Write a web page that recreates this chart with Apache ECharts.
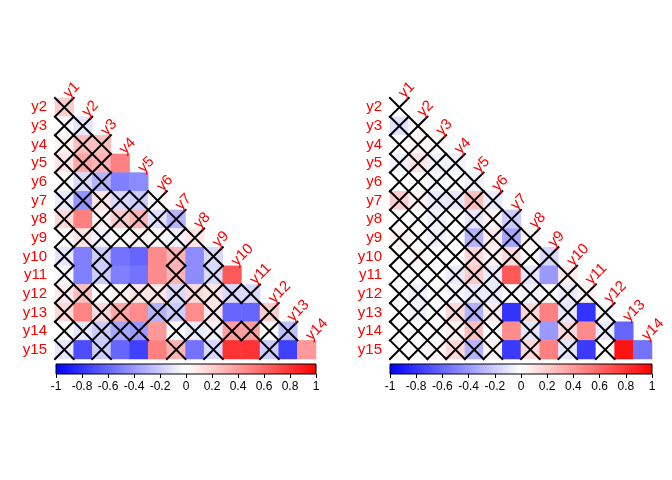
<!DOCTYPE html>
<html>
<head>
<meta charset="utf-8">
<script src="https://cdn.jsdelivr.net/npm/echarts@6/dist/echarts.min.js"></script>
<style>html,body{margin:0;padding:0;background:#fff;}#c{width:672px;height:480px;}</style>
</head>
<body>
<div id="c"></div>
<script>
// variable names
const varNames = ['y1','y2','y3','y4','y5','y6','y7','y8','y9','y10','y11','y12','y13','y14','y15'];
const colCats = varNames.slice(0, 14);
const rowCats = varNames.slice(1);

// colour bar ticks
const barTicks = [-1, -0.8, -0.6, -0.4, -0.2, 0, 0.2, 0.4, 0.6, 0.8, 1];
const palette = ['#0000FF', '#FFFFFF', '#FF0000'];

// left panel: lower triangle correlations, rows y2..y15, cols y1..
const leftValues = [
  [0.2],
  [-0.02, -0.1],
  [0.05, 0.25, 0.25],
  [0.1, 0.35, 0.3, 0.5],
  [0.0, -0.15, -0.3, -0.5, -0.45],
  [-0.08, -0.42, 0.1, -0.15, -0.2, 0.02],
  [0.15, 0.5, 0.05, 0.2, 0.3, -0.12, -0.3],
  [0.02, 0.1, -0.05, 0.0, 0.05, 0.03, -0.05, 0.1],
  [-0.1, -0.5, -0.2, -0.55, -0.6, 0.45, 0.3, -0.45, -0.15],
  [-0.03, -0.5, -0.2, -0.5, -0.55, 0.45, 0.3, -0.45, -0.15, 0.65],
  [0.08, 0.25, 0.0, 0.05, 0.1, 0.1, -0.15, 0.15, 0.1, -0.15, -0.15],
  [0.15, 0.48, 0.15, 0.35, 0.45, -0.3, -0.2, 0.45, 0.1, -0.6, -0.6, 0.2],
  [0.0, -0.1, -0.2, -0.35, -0.4, 0.4, 0.0, -0.08, -0.05, 0.38, 0.38, 0.0, -0.25],
  [-0.1, -0.7, -0.2, -0.6, -0.75, 0.5, 0.3, -0.55, -0.15, 0.8, 0.8, -0.2, -0.75, 0.4]
];
// 1 = significant (no cross), 0 = crossed out
const leftSig = [
  [0],
  [0,0],
  [0,0,0],
  [0,0,0,1],
  [0,0,0,1,1],
  [0,0,0,0,0,0],
  [0,1,0,0,0,0,0],
  [0,0,0,0,0,0,0,0],
  [0,1,0,1,1,1,0,1,0],
  [0,1,0,1,1,1,0,1,0,1],
  [0,0,0,0,0,0,0,0,0,0,0],
  [0,1,0,0,1,0,0,1,0,1,1,0],
  [0,0,0,0,0,1,0,0,0,0,0,0,0],
  [0,1,0,1,1,1,0,1,0,1,1,0,1,1]
];

// right panel
const rightValues = [
  [0.0],
  [-0.12, 0.02],
  [0.0, 0.04, 0.02],
  [-0.05, 0.1, -0.05, -0.05],
  [0.0, 0.0, -0.03, 0.0, -0.05],
  [0.2, 0.05, -0.08, -0.1, 0.25, -0.08],
  [0.0, 0.0, -0.05, 0.0, -0.1, 0.05, -0.2],
  [0.05, 0.0, -0.05, 0.0, -0.3, 0.08, -0.35, 0.03],
  [0.0, 0.04, 0.0, 0.0, 0.15, 0.05, 0.15, 0.0, -0.15],
  [0.0, 0.0, 0.0, -0.08, 0.2, -0.08, 0.65, -0.1, -0.4, 0.08],
  [0.0, -0.05, 0.0, -0.03, -0.08, -0.08, 0.0, -0.05, 0.02, -0.08, 0.05],
  [0.0, -0.05, 0.0, 0.15, -0.3, 0.08, -0.8, 0.15, 0.5, -0.1, -0.8, -0.03],
  [0.0, 0.0, 0.0, 0.05, 0.25, 0.0, 0.45, -0.1, -0.4, 0.15, 0.45, -0.08, -0.6],
  [0.0, 0.0, 0.04, 0.15, -0.3, 0.05, -0.77, 0.15, 0.5, -0.1, -0.77, 0.0, 0.93, -0.55]
];
const rightSig = [
  [0],
  [0,0],
  [0,0,0],
  [0,0,0,0],
  [0,0,0,0,0],
  [0,0,0,0,0,0],
  [0,0,0,0,0,0,0],
  [0,0,0,0,0,0,0,0],
  [0,0,0,0,0,0,0,0,0],
  [0,0,0,0,0,0,1,0,1,0],
  [0,0,0,0,0,0,0,0,0,0,0],
  [0,0,0,0,0,0,1,0,1,0,1,0],
  [0,0,0,0,0,0,1,0,1,0,1,0,1],
  [0,0,0,0,0,0,1,0,1,0,1,0,1,1]
];

const FONT = 'Liberation Sans, Arial, sans-serif';

function heatData(vals) {
  const out = [];
  vals.forEach((row, i) => row.forEach((v, j) => out.push([j, i, v])));
  return out;
}
function crossData(sig) {
  const out = [];
  sig.forEach((row, i) => row.forEach((s, j) => { if (!s) out.push([j, i]); }));
  return out;
}
const labelData = colCats.map((n, j) => [j, j, n]);

function renderCross(params, api) {
  const c = api.coord([api.value(0), api.value(1)]);
  const s = api.size([1, 1]);
  const x0 = c[0] - s[0] / 2, x1 = c[0] + s[0] / 2;
  const y0 = c[1] - s[1] / 2, y1 = c[1] + s[1] / 2;
  const st = { stroke: '#000', lineWidth: 2, lineCap: 'square' };
  return { type: 'group', children: [
    { type: 'line', shape: { x1: x0, y1: y0, x2: x1, y2: y1 }, style: st },
    { type: 'line', shape: { x1: x0, y1: y1, x2: x1, y2: y0 }, style: st }
  ]};
}
function renderColLabel(params, api) {
  const c = api.coord([api.value(0), api.value(1)]);
  const s = api.size([1, 1]);
  return {
    type: 'text', x: c[0] + 7, y: c[1] - s[1] / 2 + 3, rotation: Math.PI / 4,
    style: { text: colCats[api.value(0)], fill: '#FF0000', font: '15px ' + FONT, align: 'left', verticalAlign: 'bottom' }
  };
}
function renderBar(params, api) {
  const a = api.coord([barTicks[0], 0]);
  const b = api.coord([barTicks[barTicks.length - 1], 1]);
  return {
    type: 'rect',
    shape: { x: a[0], y: b[1], width: b[0] - a[0], height: a[1] - b[1] },
    style: {
      fill: new echarts.graphic.LinearGradient(0, 0, 1, 0, [
        { offset: 0, color: palette[0] }, { offset: 0.5, color: palette[1] }, { offset: 1, color: palette[2] }
      ]),
      stroke: '#000', lineWidth: 1
    }
  };
}

const grids = [
  { left: 55, top: 98, width: 261, height: 261 },
  { left: 390, top: 98, width: 262, height: 261 },
  { left: 56, top: 364, width: 260, height: 10 },
  { left: 390, top: 364, width: 262, height: 10 }
];
const catX = i => ({ type: 'category', gridIndex: i, data: colCats, show: false });
const catY = i => ({
  type: 'category', gridIndex: i, data: rowCats, inverse: true,
  axisLine: { show: false }, axisTick: { show: false }, splitLine: { show: false },
  axisLabel: { color: '#FF0000', fontSize: 15, fontFamily: FONT, margin: 8, interval: 0 }
});
const barX = i => ({
  type: 'value', gridIndex: i, min: barTicks[0], max: barTicks[barTicks.length - 1], interval: 0.2,
  axisLine: { show: false }, splitLine: { show: false },
  axisTick: { show: true, length: 4, lineStyle: { color: '#000', width: 1 } },
  axisLabel: { color: '#000', fontSize: 12, fontFamily: FONT, margin: 7,
    formatter: v => String(+v.toFixed(1)) }
});
const barY = i => ({ type: 'value', gridIndex: i, min: 0, max: 1, show: false });

const chart = echarts.init(document.getElementById('c'), null, { renderer: 'canvas' });
chart.setOption({
  animation: false,
  backgroundColor: '#fff',
  grid: grids,
  xAxis: [catX(0), catX(1), barX(2), barX(3)],
  yAxis: [catY(0), catY(1), barY(2), barY(3)],
  visualMap: {
    type: 'continuous', show: false, min: -1, max: 1, dimension: 2, seriesIndex: [0, 1],
    inRange: { color: palette }
  },
  series: [
    { type: 'heatmap', xAxisIndex: 0, yAxisIndex: 0, data: heatData(leftValues), emphasis: { disabled: true } },
    { type: 'heatmap', xAxisIndex: 1, yAxisIndex: 1, data: heatData(rightValues), emphasis: { disabled: true } },
    { type: 'custom', xAxisIndex: 0, yAxisIndex: 0, data: crossData(leftSig), renderItem: renderCross, z: 5, clip: false, silent: true },
    { type: 'custom', xAxisIndex: 1, yAxisIndex: 1, data: crossData(rightSig), renderItem: renderCross, z: 5, clip: false, silent: true },
    { type: 'custom', xAxisIndex: 0, yAxisIndex: 0, data: labelData, renderItem: renderColLabel, z: 6, clip: false, silent: true },
    { type: 'custom', xAxisIndex: 1, yAxisIndex: 1, data: labelData, renderItem: renderColLabel, z: 6, clip: false, silent: true },
    { type: 'custom', xAxisIndex: 2, yAxisIndex: 2, data: [[0, 0]], renderItem: renderBar, clip: false, silent: true },
    { type: 'custom', xAxisIndex: 3, yAxisIndex: 3, data: [[0, 0]], renderItem: renderBar, clip: false, silent: true }
  ]
});
</script>
</body>
</html>
